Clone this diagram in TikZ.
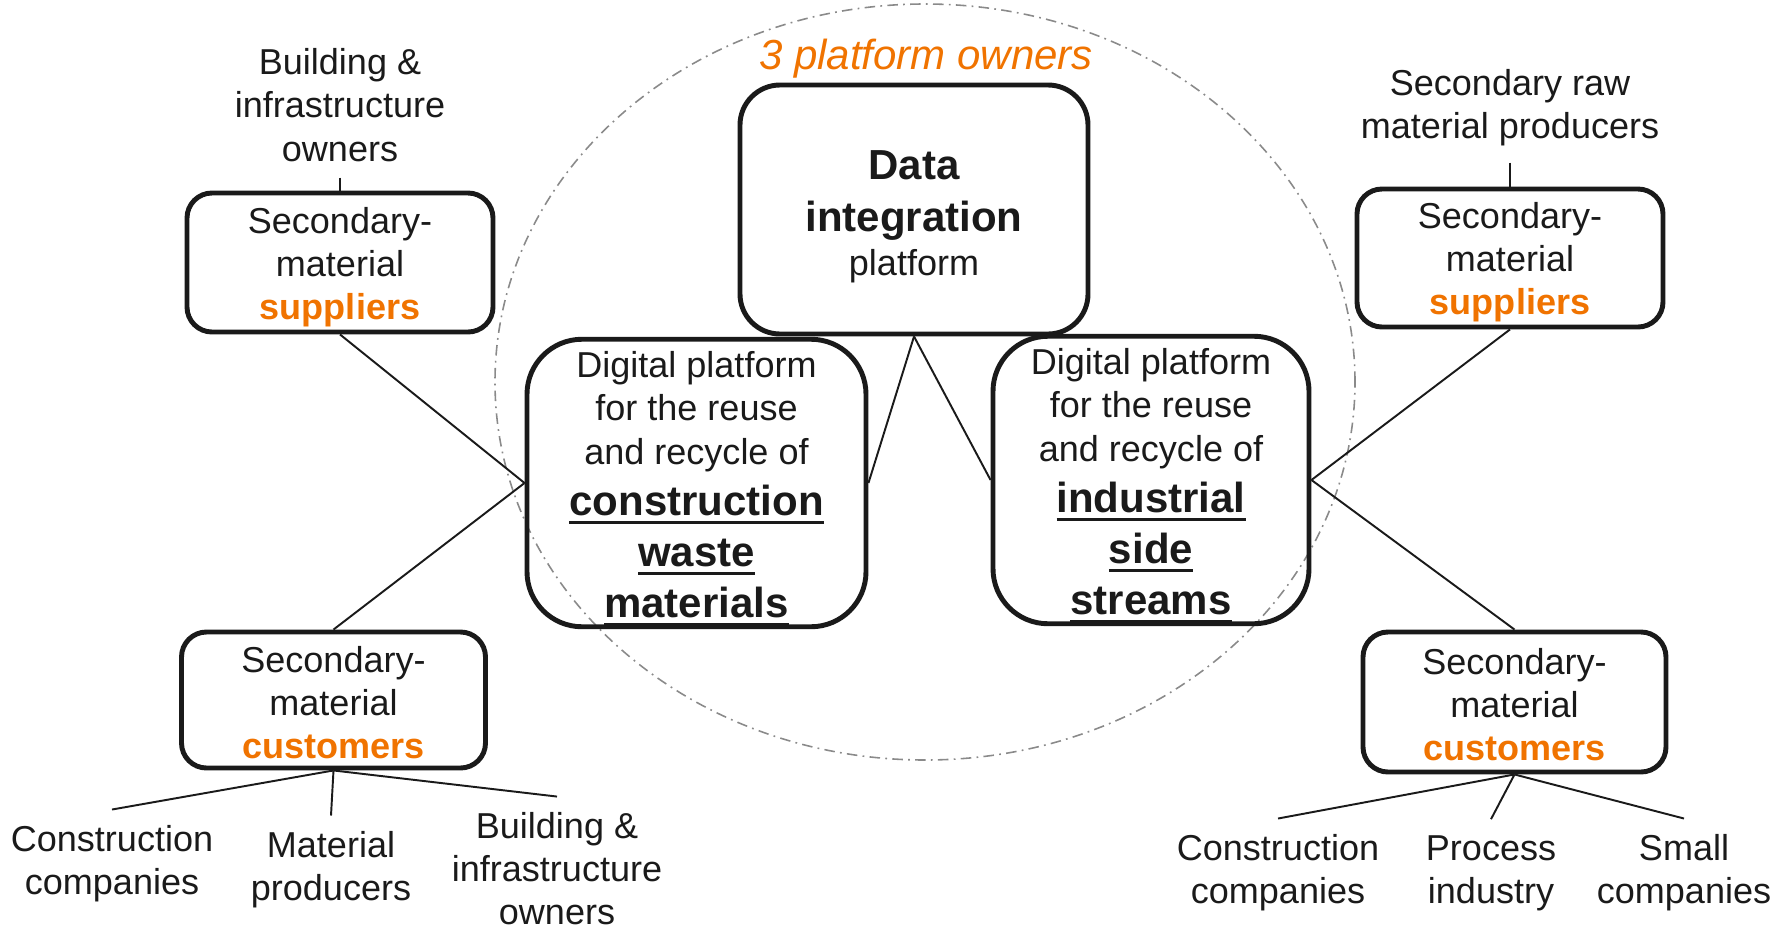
\documentclass[tikz,border=0pt]{standalone}
\usepackage{fontspec}
\setmainfont{Liberation Sans}
\usetikzlibrary{positioning}
\definecolor{Ink}{HTML}{1A1A1A}
\definecolor{Flame}{HTML}{F07300}
\definecolor{Ring}{HTML}{8A8A8A}
\newcommand{\role}[1]{\textcolor{Flame}{\bfseries #1}}
\newcommand{\bigbf}{\fontsize{23.9}{28.5}\selectfont\bfseries}
\newcommand{\focus}[1]{{\bigbf\setbox0\hbox{#1}\rlap{\rule[-5pt]{\wd0}{1.9pt}}\box0}}
% extra room above the first line of a box
\newcommand{\headroom}[1]{\rule{0pt}{#1}}

\begin{document}
\begin{tikzpicture}[
    every node/.style={font=\fontsize{20.5}{24.5}\selectfont},
    box/.style={draw=Ink,line width=2.8pt,rounded corners=0.5cm,align=center,inner sep=0pt,text=Ink},
    tag/.style={align=center,inner sep=9pt,text=Ink},
    link/.style={draw=Ink,line width=1.1pt}]
    \useasboundingbox (0,0) rectangle (35.82,-18.5);

    % ring of the platform owners
    \draw[Ring,line width=0.9pt,dash pattern=on 6pt off 3pt on 1pt off 3pt] (18.5,-7.64) ellipse (8.6cm and 7.56cm);
    \node[anchor=base,text=Flame,font=\fontsize{23.9}{28.5}\selectfont\itshape] (own) at (18.52,-1.38) {3 platform owners};

    % platforms
    \node[box,rounded corners=0.8cm,minimum width=6.96cm,minimum height=4.98cm] (dip) at (18.28,-4.19) {\headroom{25pt}\bigbf Data\\[5pt]\bigbf integration\\[0.5pt]platform};
    \node[box,rounded corners=1.1cm,minimum width=6.78cm,minimum height=5.6cm] (cw) at (13.93,-9.66) {\headroom{22pt}Digital platform\\for the reuse\\and recycle of\\[4.7pt]\focus{construction}\\[4.7pt]\focus{waste}\\[4.7pt]\focus{materials}};
    \node[box,rounded corners=1.1cm,minimum width=6.32cm,minimum height=5.48cm] (iss) at (23.02,-9.6) {\headroom{22pt}Digital platform\\for the reuse\\and recycle of\\[4.7pt]\focus{industrial}\\[4.7pt]\focus{side}\\[4.7pt]\focus{streams}};

    % suppliers and customers
    \node[box,minimum width=6.12cm,minimum height=2.78cm] (supL) at (6.8,-5.25) {\headroom{20pt}Secondary-\\material\\\role{suppliers}};
    \node[box,minimum width=6.08cm,minimum height=2.72cm] (cusL) at (6.67,-14.0) {\headroom{18pt}Secondary-\\material\\\role{customers}};
    \node[box,minimum width=6.12cm,minimum height=2.76cm] (supR) at (30.2,-5.16) {\headroom{20pt}Secondary-\\material\\\role{suppliers}};
    \node[box,minimum width=6.06cm,minimum height=2.8cm] (cusR) at (30.29,-14.04) {\headroom{18pt}Secondary-\\material\\\role{customers}};

    % actors
    \node[tag,above=0.26cm of supL] (bioL) {Building \&\\infrastructure\\owners};
    \node[tag,above=0.48cm of supR] (srm) {Secondary raw\\material producers};
    \node[tag] (ccL) at (2.24,-17.28) {Construction\\companies};
    \node[tag] (mp) at (6.62,-17.4) {Material\\producers};
    \node[tag] (bioB) at (11.14,-17.38) {Building \&\\infrastructure\\owners};
    \node[tag] (ccR) at (25.56,-17.46) {Construction\\companies};
    \node[tag] (pi) at (29.82,-17.46) {Process\\industry};
    \node[tag] (sc) at (33.68,-17.46) {Small\\companies};

    % links
    \draw[link] (dip.south) -- (cw.east);
    \draw[link] (dip.south) -- (iss.west);
    \draw[link] (supL.south) -- (cw.west);
    \draw[link] (cusL.north) -- (cw.west);
    \draw[link] (supR.south) -- (iss.east);
    \draw[link] (cusR.north) -- (iss.east);
    \draw[link] (bioL) -- (supL);
    \draw[link] (srm) -- (supR);
    \draw[link] (cusL.south) -- (ccL.north);
    \draw[link] (cusL.south) -- (mp.north);
    \draw[link] (cusL.south) -- (bioB.north);
    \draw[link] (cusR.south) -- (ccR.north);
    \draw[link] (cusR.south) -- (pi.north);
    \draw[link] (cusR.south) -- (sc.north);
\end{tikzpicture}
\end{document}
